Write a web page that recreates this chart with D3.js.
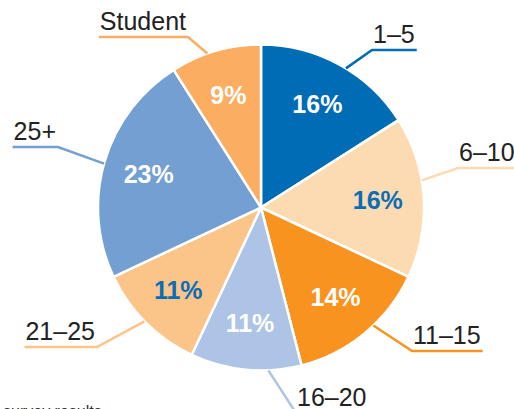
<!DOCTYPE html>
<html>
<head>
<meta charset="utf-8">
<script src="https://cdn.jsdelivr.net/npm/d3@7"></script>
<style>
  html, body { margin: 0; padding: 0; background: #fff; overflow: hidden; }
  svg { display: block; font-family: "Liberation Sans", Arial, Helvetica, sans-serif; }
</style>
</head>
<body>
<div id="chart"></div>
<script>
// slice data, clockwise from 12 o'clock
const categories = ["1–5", "6–10", "11–15", "16–20", "21–25", "25+", "Student"];
const shares = [16, 16, 14, 11, 11, 23, 9];
const sliceColors = ["#006cb5", "#fddbb2", "#f7931e", "#adc4e6", "#fbc489", "#739fd3", "#fbad62"];
const pctColors = ["#fff", "#0a6db5", "#fff", "#fff", "#0a6db5", "#fff", "#fff"];

// callout placement: elbow point of each leader, and angle nudge (deg) of its start on the rim
const calloutLayout = {
    "1–5":     {elbow: [372, 50],  nudge: 2.6,  side: "right"},
    "6–10":    {elbow: [458, 168], nudge: -6,   side: "right"},
    "11–15":   {elbow: [412, 351], nudge: -4,   side: "right"},
    "16–20":   {elbow: [296, 413], nudge: -8,   side: "right"},
    "21–25":   {elbow: [97, 347],  nudge: 0.7,  side: "left"},
    "25+":     {elbow: [58, 147],  nudge: -0.6, side: "left"},
    "Student": {elbow: [188, 37],  nudge: -3,   side: "left"}
};

const width = 514, height = 409;
const cx = 261, cy = 207.5, radius = 163;

const data = categories.map((c, i) => ({cat: c, value: shares[i], color: sliceColors[i], pct: pctColors[i]}));

const svg = d3.select("#chart").append("svg")
    .attr("width", width)
    .attr("height", height);

const g = svg.append("g").attr("transform", `translate(${cx}, ${cy})`);

const pie = d3.pie().sort(null).value(d => d.value);
const arc = d3.arc().innerRadius(0).outerRadius(radius);
const labelArc = d3.arc().innerRadius(117).outerRadius(117);

const arcs = pie(data);

g.selectAll("path.slice")
    .data(arcs)
    .enter()
    .append("path")
    .attr("class", "slice")
    .attr("d", arc)
    .attr("fill", d => d.data.color)
    .attr("stroke", "#fff")
    .attr("stroke-width", 2.5)
    .attr("stroke-linejoin", "round");

g.selectAll("text.pct")
    .data(arcs)
    .enter()
    .append("text")
    .attr("class", "pct")
    .attr("transform", d => `translate(${labelArc.centroid(d)})`)
    .attr("text-anchor", "middle")
    .attr("dy", "0.34em")
    .attr("font-size", 25)
    .attr("font-weight", "bold")
    .attr("fill", d => d.data.pct)
    .text(d => d.data.value + "%");

// callouts
const callouts = svg.append("g");
arcs.forEach(d => {
    const lay = calloutLayout[d.data.cat];
    const a = (d.startAngle + d.endAngle) / 2 + lay.nudge * Math.PI / 180;
    const sx = cx + radius * Math.sin(a), sy = cy - radius * Math.cos(a);
    const [ex, ey] = lay.elbow;

    const txt = callouts.append("text")
        .attr("y", ey - 7)
        .attr("font-size", 25)
        .attr("fill", "#222")
        .text(d.data.cat);
    const w = txt.node().getComputedTextLength();
    let endX;
    if (lay.side === "right") {
        txt.attr("x", ex + 1);
        endX = ex + w + 3;
    } else {
        txt.attr("x", ex - 2).attr("text-anchor", "end");
        endX = ex - w - 3;
    }

    callouts.append("path")
        .attr("d", `M${sx},${sy}L${ex},${ey}L${endX},${ey}`)
        .attr("fill", "none")
        .attr("stroke", d.data.color)
        .attr("stroke-width", 2.5);
});

svg.append("text")
    .attr("x", 3)
    .attr("y", 417)
    .attr("font-size", 16)
    .attr("fill", "#333")
    .text("survey results");
</script>
</body>
</html>
